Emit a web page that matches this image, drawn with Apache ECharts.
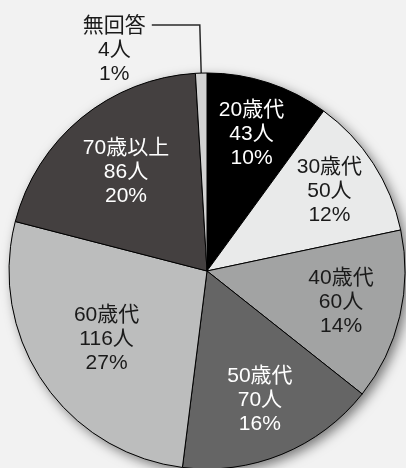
<!DOCTYPE html>
<html>
<head>
<meta charset="utf-8">
<script src="https://cdn.jsdelivr.net/npm/echarts@6/dist/echarts.min.js"></script>
<style>
  html, body { margin: 0; padding: 0; background: #f2f2f2; }
  #main { width: 406px; height: 468px; }
</style>
</head>
<body>
<div id="main"></div>
<script>
// age groups, clockwise from 12 o'clock
const categories = ['20歳代', '30歳代', '40歳代', '50歳代', '60歳代', '70歳以上', '無回答']
const people = [43, 50, 60, 70, 116, 86, 4]

const sliceColors = ['#000000', '#e9eaea', '#a2a3a3', '#656565', '#bcbdbd', '#444040', '#d2d2d2']
const textColors = ['#fff', '#1a1a1a', '#1a1a1a', '#fff', '#1a1a1a', '#fff', '#1a1a1a']
// how far out each inside label sits, relative to the default (half radius)
const labelReach = [1.41, 1.43, 1.35, 1.37, 1.19, 1.25, 1]

const CX = 207
const CY = 271
const R = 198
const font = "'Liberation Sans', 'Noto Sans CJK JP', sans-serif"

const chart = echarts.init(document.getElementById('main'))

const total = people.reduce((a, b) => a + b, 0)
const lastIdx = categories.length - 1

const pieData = categories.map((name, i) => {
  const item = {
    name: name,
    value: people[i],
    itemStyle: { color: sliceColors[i] },
    label: { color: textColors[i] },
  }
  if (i === lastIdx) {
    item.label = {
      color: textColors[i],
      position: 'outside',
    }
    item.labelLine = {
      show: true,
      length: 48,
      length2: 48,
      lineStyle: { color: '#2a2a2a', width: 1.5 },
    }
  }
  return item
})

let option = {
  backgroundColor: '#f2f2f2',
  animation: false,
  series: [
    {
      // soft drop shadow under the pie
      type: 'pie',
      silent: true,
      center: [CX, CY],
      radius: R,
      z: 1,
      label: { show: false },
      labelLine: { show: false },
      itemStyle: {
        color: '#777',
        shadowBlur: 12,
        shadowColor: 'rgba(0,0,0,0.5)',
        shadowOffsetX: 4,
        shadowOffsetY: 4,
      },
      data: [{ name: 'shadow', value: total }],
    },
    {
      type: 'pie',
      center: [CX, CY],
      radius: R,
      startAngle: 90,
      clockwise: true,
      z: 2,
      percentPrecision: 0,
      avoidLabelOverlap: false,
      itemStyle: { borderColor: '#000', borderWidth: 1 },
      emphasis: { disabled: true },
      label: {
        show: true,
        position: 'inside',
        formatter: '{b}\n{c}人\n{d}%',
        fontFamily: font,
        fontSize: 21,
        lineHeight: 24,
        align: 'center',
      },
      labelLine: { show: false },
      labelLayout: (params) => {
        const rect = params.labelRect
        const i = params.dataIndex
        if (i === lastIdx) {
          const pts = params.labelLinePoints
          if (!pts) return {}
          const p0 = pts[0]
          const p1 = pts[1]
          const p2 = pts[2]
          // start the leader a little inside the slice
          const dx = p0[0] - p1[0]
          const dy = p0[1] - p1[1]
          const len = Math.sqrt(dx * dx + dy * dy)
          const start = [p0[0] + (dx / len) * 7, p0[1] + (dy / len) * 7]
          return {
            x: p2[0] - 6 - rect.width / 2,
            y: p2[1] - 11,
            align: 'center',
            verticalAlign: 'top',
            labelLinePoints: [start, p1, p2],
          }
        }
        const lx = rect.x + rect.width / 2
        const ly = rect.y + rect.height / 2
        const k = labelReach[i]
        return {
          x: CX + (lx - CX) * k,
          y: CY + (ly - CY) * k,
          align: 'center',
          verticalAlign: 'middle',
        }
      },
      data: pieData,
    },
  ],
}

chart.setOption(option)
</script>
</body>
</html>
